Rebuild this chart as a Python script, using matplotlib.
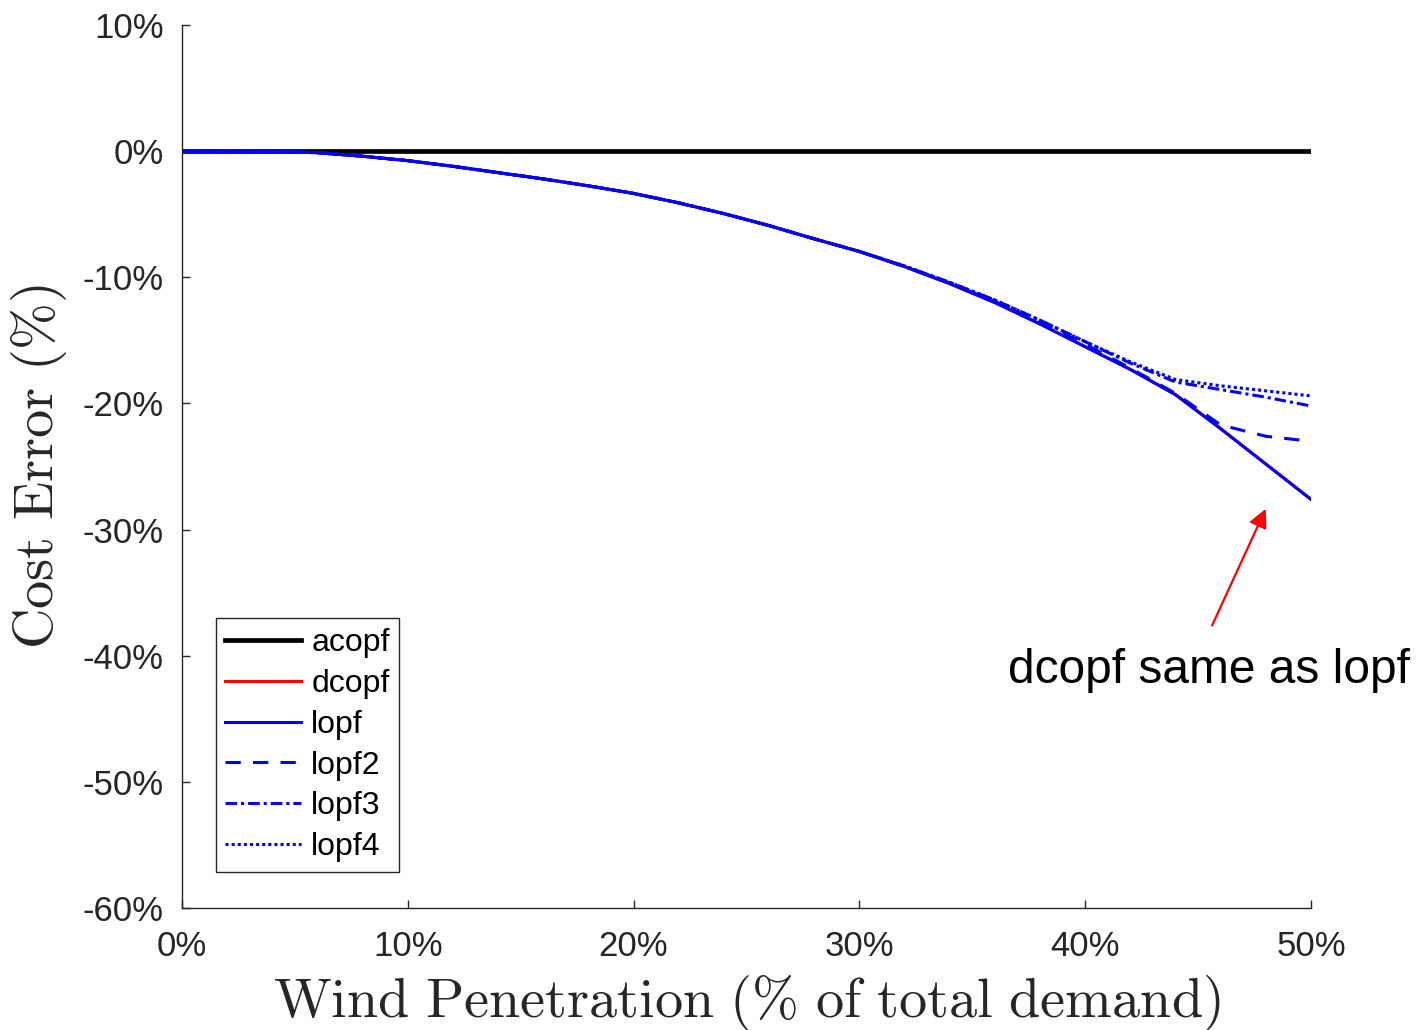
import matplotlib
matplotlib.use("Agg")
import matplotlib.pyplot as plt

plt.rcParams['font.family'] = ['Liberation Sans', 'DejaVu Sans']
plt.rcParams['mathtext.fontset'] = 'cm'

# wind penetration (% of total demand)
wind = [0, 2, 4, 6, 8, 10, 12, 14, 16, 18, 20, 22, 24, 26,
        28, 30, 32, 34, 36, 38, 40, 42, 44, 46, 48, 50]

# cost error (%) per formulation
acopf = [0.0] * len(wind)
lopf = [0.0, 0.0, -0.02, -0.12, -0.4, -0.75, -1.2, -1.7, -2.2, -2.75, -3.35, -4.1, -4.95,
        -5.9, -6.95, -7.95, -9.15, -10.5, -12.0, -13.7, -15.5, -17.3, -19.3, -22.0, -24.8, -27.6]
dcopf = list(lopf)  # identical to lopf
lopf2 = [0.0, 0.0, -0.02, -0.12, -0.4, -0.75, -1.2, -1.7, -2.2, -2.75, -3.35, -4.1, -4.95,
         -5.9, -6.95, -7.95, -9.15, -10.45, -11.9, -13.6, -15.3, -17.2, -19.2, -21.7, -22.6, -23.0]
lopf3 = [0.0, 0.0, -0.02, -0.12, -0.4, -0.75, -1.2, -1.7, -2.2, -2.75, -3.35, -4.1, -4.95,
         -5.9, -6.95, -7.95, -9.1, -10.4, -11.8, -13.4, -15.1, -16.8, -18.3, -18.9, -19.5, -20.2]
lopf4 = [0.0, 0.0, -0.02, -0.12, -0.4, -0.75, -1.2, -1.7, -2.2, -2.75, -3.35, -4.1, -4.95,
         -5.9, -6.95, -7.95, -9.1, -10.4, -11.8, -13.4, -15.1, -16.7, -18.1, -18.6, -19.0, -19.4]

xticks = [0, 10, 20, 30, 40, 50]
yticks = [-60, -50, -40, -30, -20, -10, 0, 10]

fig = plt.figure(figsize=(14.18, 10.30), dpi=100)
ax = fig.add_axes([0.1283, 0.1184, 0.7962, 0.8573])

ax.plot(wind, acopf, color='black', lw=3.4, label='acopf')
ax.plot(wind, dcopf, color='red', lw=2.2, label='dcopf')
ax.plot(wind, lopf, color='blue', lw=2.2, label='lopf')
ax.plot(wind, lopf2, color='blue', lw=2.2, dashes=(5.0, 4.0), label='lopf2')
ax.plot(wind, lopf3, color='blue', lw=2.2, dashes=(3.8, 1.3, 1.0, 1.3), label='lopf3')
ax.plot(wind, lopf4, color='blue', lw=2.2, dashes=(1.0, 1.0), label='lopf4')

ax.set_xlim(0, 50)
ax.set_ylim(-60, 10)
ax.set_xticks(xticks)
ax.set_xticklabels(['%d%%' % t for t in xticks])
ax.set_yticks(yticks)
ax.set_yticklabels(['%d%%' % t for t in yticks])

for s in ['top', 'right']:
    ax.spines[s].set_visible(False)
for s in ['left', 'bottom']:
    ax.spines[s].set_color('#262626')
    ax.spines[s].set_linewidth(1.0)
ax.tick_params(direction='in', length=6, width=1.0, colors='#262626', labelsize=25)
ax.tick_params(axis='x', pad=16)
ax.tick_params(axis='y', pad=13)

ax.set_xlabel(r'$\mathrm{Wind\ Penetration\ (\%\ of\ total\ demand)}$',
              fontsize=40.5, color='#262626', va='center')
ax.xaxis.set_label_coords(0.5, -0.107)
ax.set_ylabel(r'$\mathrm{Cost\ Error\ (\%)}$', fontsize=40.5, color='#262626', va='center')
ax.yaxis.set_label_coords(-0.127, 0.5)

leg = ax.legend(loc='upper left', bbox_to_anchor=(0.030, 0.328), borderaxespad=0,
                fontsize=23, fancybox=False, edgecolor='#262626', framealpha=1,
                handlelength=2.38, handletextpad=0.31, labelspacing=0.34,
                borderpad=0.3)
leg.get_frame().set_linewidth(1.0)

ax.annotate('', xy=(48.05, -28.15), xytext=(45.57, -37.8),
            arrowprops=dict(arrowstyle='-|>', color='red', lw=1.6, mutation_scale=28))
ax.text(45.48, -41.15, 'dcopf same as lopf', fontsize=34.5, ha='center', va='center',
        color='black', clip_on=False)

fig.savefig('out.png', dpi=100)
